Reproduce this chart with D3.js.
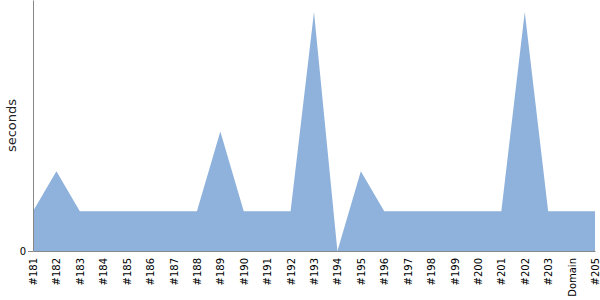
<!DOCTYPE html>
<html lang="en">
<head>
<meta charset="UTF-8">
<title>seconds per build</title>
<script src="https://d3js.org/d3.v7.min.js"></script>
<style>
    body { margin: 0; background: #fff; }
</style>
</head>
<body>
<svg width="600" height="300"></svg>
<script>
    let labels = ["#181", "#182", "#183", "#184", "#185", "#186", "#187", "#188", "#189", "#190",
        "#191", "#192", "#193", "#194", "#195", "#196", "#197", "#198", "#199", "#200",
        "#201", "#202", "#203", "Domain", "#205"];
    let seconds = [1, 2, 1, 1, 1, 1, 1, 1, 3, 1,
        1, 1, 6, 0, 2, 1, 1, 1, 1, 1,
        1, 6, 1, 1, 1];
    let yTicks = [0];

    let font = "'DejaVu Sans'";
    let margin = {top: 0, right: 5, bottom: 49, left: 33},
        width = 600 - margin.left - margin.right,
        height = 300 - margin.top - margin.bottom;

    let svg = d3.select("svg");
    let g = svg.append("g").attr("transform", "translate(" + margin.left + "," + margin.top + ")");

    let x = d3.scalePoint().domain(labels).range([0, width]);
    let y = d3.scaleLinear().domain([0, 6.3]).range([height, 0]);

    let data = labels.map(function(d, i) { return {label: d, value: seconds[i]}; });

    let area = d3.area()
        .x(function(d) { return x(d.label); })
        .y0(height)
        .y1(function(d) { return y(d.value); });

    g.append("path")
        .datum(data)
        .attr("fill", "#8fb2dc")
        .attr("d", area);

    // x axis
    let xAxis = g.append("g")
        .attr("transform", "translate(0," + height + ")")
        .call(d3.axisBottom(x).tickSize(0).tickPadding(0));
    xAxis.select(".domain").attr("stroke", "#888");
    xAxis.selectAll("text")
        .style("font-family", font)
        .attr("font-size", 10)
        .attr("fill", "#000")
        .attr("transform", "rotate(-90)")
        .attr("text-anchor", "end")
        .attr("x", -7)
        .attr("y", 0)
        .attr("dy", "0.35em");

    // y axis
    let yAxis = g.append("g")
        .call(d3.axisLeft(y).tickValues(yTicks).tickFormat(d3.format("d")).tickSize(5).tickPadding(2).tickSizeOuter(0));
    yAxis.select(".domain").attr("stroke", "#888");
    yAxis.selectAll(".tick line").attr("stroke", "#888");
    yAxis.selectAll("text").style("font-family", font).attr("font-size", 10).attr("fill", "#000");

    svg.append("text")
        .attr("transform", "translate(11," + (height / 2) + ") rotate(-90)")
        .attr("text-anchor", "middle")
        .attr("dy", "0.35em")
        .style("font-family", font)
        .attr("font-size", 13)
        .attr("fill", "#222")
        .text("seconds");
</script>
</body>
</html>
